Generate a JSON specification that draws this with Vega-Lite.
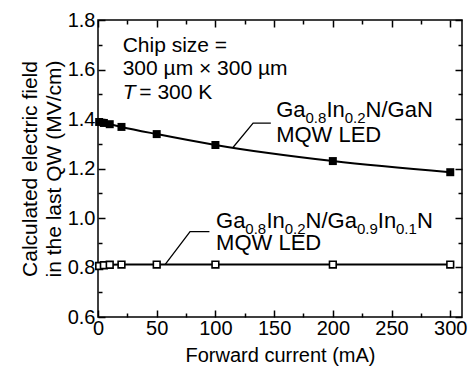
{
  "$schema": "https://vega.github.io/schema/vega-lite/v6.json",
  "width": 364,
  "height": 297,
  "autosize": "none",
  "padding": {"left": 98, "top": 20, "right": 7, "bottom": 51},
  "background": "white",
  "config": {
    "view": {"stroke": "black", "strokeWidth": 1.5},
    "font": "Liberation Sans",
    "axis": {
      "grid": false,
      "domain": false,
      "tickColor": "black",
      "tickWidth": 1.5,
      "labelColor": "black",
      "titleColor": "black",
      "labelFont": "Liberation Sans",
      "titleFont": "Liberation Sans",
      "labelFontSize": 20,
      "titleFontSize": 20,
      "titleFontWeight": "normal",
      "labelFlush": false,
      "labelOverlap": false
    }
  },
  "datasets": {
    "series": [
      {"s": "GaN", "current": 1, "field": 1.388},
      {"s": "GaN", "current": 5, "field": 1.384},
      {"s": "GaN", "current": 10, "field": 1.379},
      {"s": "GaN", "current": 20, "field": 1.368},
      {"s": "GaN", "current": 50, "field": 1.339},
      {"s": "GaN", "current": 100, "field": 1.295},
      {"s": "GaN", "current": 200, "field": 1.23},
      {"s": "GaN", "current": 300, "field": 1.185},
      {"s": "GaInN", "current": 1, "field": 0.806},
      {"s": "GaInN", "current": 5, "field": 0.809},
      {"s": "GaInN", "current": 10, "field": 0.811},
      {"s": "GaInN", "current": 20, "field": 0.812},
      {"s": "GaInN", "current": 50, "field": 0.812},
      {"s": "GaInN", "current": 100, "field": 0.812},
      {"s": "GaInN", "current": 200, "field": 0.812},
      {"s": "GaInN", "current": 300, "field": 0.812}
    ],
    "leaders": [
      {"id": "a", "o": 1, "x": 115.1, "y": 1.286},
      {"id": "a", "o": 2, "x": 132.1, "y": 1.383},
      {"id": "a", "o": 3, "x": 147.2, "y": 1.383},
      {"id": "b", "o": 1, "x": 57.1, "y": 0.812},
      {"id": "b", "o": 2, "x": 78.4, "y": 0.945},
      {"id": "b", "o": 3, "x": 94.9, "y": 0.945}
    ],
    "main": [
      {"t": "Ga", "x": 151.7, "y": 1.409},
      {"t": "In", "x": 194.5, "y": 1.409},
      {"t": "N/GaN", "x": 227.9, "y": 1.409},
      {"t": "MQW LED", "x": 151.7, "y": 1.308},
      {"t": "Ga", "x": 100.6, "y": 0.958},
      {"t": "In", "x": 143.4, "y": 0.958},
      {"t": "N/Ga", "x": 176.8, "y": 0.958},
      {"t": "In", "x": 238.3, "y": 0.958},
      {"t": "N", "x": 271.7, "y": 0.958},
      {"t": "MQW LED", "x": 100.6, "y": 0.872}
    ],
    "subs": [
      {"t": "0.8", "x": 176.7, "y": 1.385},
      {"t": "0.2", "x": 210.1, "y": 1.385},
      {"t": "0.8", "x": 125.5, "y": 0.934},
      {"t": "0.2", "x": 159.0, "y": 0.934},
      {"t": "0.9", "x": 220.5, "y": 0.934},
      {"t": "0.1", "x": 253.7, "y": 0.934}
    ],
    "info": [
      {"t": "Chip size =", "x": 21, "y": 1.672},
      {"t": "300 µm × 300 µm", "x": 21, "y": 1.578},
      {"t": "= 300 K", "x": 35.2, "y": 1.481}
    ],
    "italic": [
      {"t": "T", "x": 21, "y": 1.481}
    ]
  },
  "layer": [
    {
      "data": {"name": "series"},
      "mark": {"type": "line", "color": "black", "strokeWidth": 2, "interpolate": "monotone"},
      "encoding": {
        "x": {
          "field": "current", "type": "quantitative",
          "scale": {"domain": [0, 310], "nice": false, "zero": false},
          "axis": {
            "orient": "bottom",
            "values": [0, 25, 50, 75, 100, 125, 150, 175, 200, 225, 250, 275, 300],
            "labelExpr": "datum.value % 50 === 0 ? datum.label : ''",
            "tickSize": {"condition": {"test": "datum.value % 50 === 0", "value": -7}, "value": -4},
            "labelPadding": 8,
            "title": "Forward current (mA)",
            "titlePadding": 4
          }
        },
        "y": {
          "field": "field", "type": "quantitative",
          "scale": {"domain": [0.6, 1.8], "nice": false, "zero": false},
          "axis": {
            "orient": "left",
            "values": [0.6, 0.7, 0.8, 0.9, 1.0, 1.1, 1.2, 1.3, 1.4, 1.5, 1.6, 1.7, 1.8],
            "labelExpr": "round(datum.value * 10) % 2 === 0 ? format(datum.value, '.1f') : ''",
            "tickSize": {"condition": {"test": "round(datum.value * 10) % 2 === 0", "value": -7}, "value": -4},
            "labelPadding": 10,
            "title": ["Calculated electric field", "in the last QW (MV/cm)"],
            "titleFontSize": 21,
            "titleLineHeight": 24,
            "titlePadding": 3
          }
        },
        "detail": {"field": "s"}
      }
    },
    {
      "data": {"name": "series"},
      "transform": [{"filter": "datum.s === 'GaN'"}],
      "mark": {"type": "point", "shape": "square", "filled": true, "color": "black", "size": 64, "opacity": 1},
      "encoding": {
        "x": {"field": "current", "type": "quantitative", "axis": {
          "orient": "top", "labels": false, "title": null,
          "values": [0, 25, 50, 75, 100, 125, 150, 175, 200, 225, 250, 275, 300],
          "tickSize": {"condition": {"test": "datum.value % 50 === 0", "value": -7}, "value": -4}
        }},
        "y": {"field": "field", "type": "quantitative", "axis": {
          "orient": "right", "labels": false, "title": null,
          "values": [0.6, 0.7, 0.8, 0.9, 1.0, 1.1, 1.2, 1.3, 1.4, 1.5, 1.6, 1.7, 1.8],
          "tickSize": {"condition": {"test": "round(datum.value * 10) % 2 === 0", "value": -7}, "value": -4}
        }}
      }
    },
    {
      "data": {"name": "series"},
      "transform": [{"filter": "datum.s === 'GaInN'"}],
      "mark": {"type": "point", "shape": "square", "filled": true, "fill": "white", "stroke": "black", "strokeWidth": 1.6, "size": 45, "opacity": 1},
      "encoding": {
        "x": {"field": "current", "type": "quantitative", "axis": null},
        "y": {"field": "field", "type": "quantitative", "axis": null}
      }
    },
    {
      "data": {"name": "leaders"},
      "mark": {"type": "line", "color": "black", "strokeWidth": 1.3},
      "encoding": {
        "x": {"field": "x", "type": "quantitative", "axis": null},
        "y": {"field": "y", "type": "quantitative", "axis": null},
        "detail": {"field": "id"},
        "order": {"field": "o"}
      }
    },
    {
      "data": {"name": "main"},
      "mark": {"type": "text", "align": "left", "baseline": "alphabetic", "fontSize": 22, "font": "Liberation Sans", "color": "black"},
      "encoding": {
        "x": {"field": "x", "type": "quantitative", "axis": null},
        "y": {"field": "y", "type": "quantitative", "axis": null},
        "text": {"field": "t"}
      }
    },
    {
      "data": {"name": "subs"},
      "mark": {"type": "text", "align": "left", "baseline": "alphabetic", "fontSize": 15, "font": "Liberation Sans", "color": "black"},
      "encoding": {
        "x": {"field": "x", "type": "quantitative", "axis": null},
        "y": {"field": "y", "type": "quantitative", "axis": null},
        "text": {"field": "t"}
      }
    },
    {
      "data": {"name": "info"},
      "mark": {"type": "text", "align": "left", "baseline": "alphabetic", "fontSize": 21, "font": "Liberation Sans", "color": "black"},
      "encoding": {
        "x": {"field": "x", "type": "quantitative", "axis": null},
        "y": {"field": "y", "type": "quantitative", "axis": null},
        "text": {"field": "t"}
      }
    },
    {
      "data": {"name": "italic"},
      "mark": {"type": "text", "align": "left", "baseline": "alphabetic", "fontSize": 21, "fontStyle": "italic", "font": "Liberation Sans", "color": "black"},
      "encoding": {
        "x": {"field": "x", "type": "quantitative", "axis": null},
        "y": {"field": "y", "type": "quantitative", "axis": null},
        "text": {"field": "t"}
      }
    }
  ],
  "resolve": {"axis": {"x": "independent", "y": "independent"}}
}
